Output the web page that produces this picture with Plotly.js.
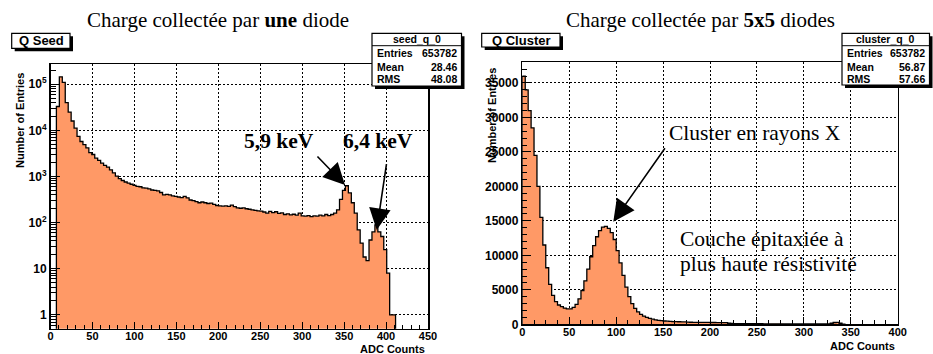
<!DOCTYPE html>
<html>
<head>
<meta charset="utf-8">
<script src="https://cdn.plot.ly/plotly-3.0.1.min.js"></script>
<style>html,body{margin:0;padding:0;background:#fff;}#chart{width:933px;height:354px;}</style>
</head>
<body>
<div id="chart"></div>
<script>
// ---------- DATA ----------
// Left histogram: seed_q_0 (128 bins from 0 to 450)
const seedBinLo = 0;
const seedBinHi = 450;
const seedNBins = 128;
const seedCounts = [
  0, 0, 33000, 145000, 110000, 40000, 25000, 16000, 11200, 7400,
  5750, 4900, 4200, 3300, 3000, 2500, 2250, 1950, 1750, 1600,
  1400, 1200, 1020, 900, 820, 760, 720, 680, 640, 610,
  600, 570, 560, 540, 510, 500, 490, 450, 400, 410,
  400, 380, 370, 360, 350, 370, 345, 310, 300, 285,
  270, 280, 270, 260, 265, 250, 235, 230, 228, 232,
  225, 240, 222, 210, 205, 208, 200, 195, 190, 185,
  180, 178, 170, 160, 175, 165, 172, 158, 162, 150,
  155, 148, 152, 145, 160, 140, 138, 142, 135, 140,
  138, 145, 140, 150, 142, 150, 160, 190, 320, 500,
  630, 440, 270, 160, 70, 36, 18, 15, 42, 63,
  89, 63, 50, 26, 8, 1, 1
];
// Right histogram: cluster_q_0 (128 bins from 0 to 400)
const clusterBinLo = 0;
const clusterBinHi = 400;
const clusterNBins = 128;
const clusterCounts = [
  36000, 34000, 31000, 28500, 24500, 20000, 15500, 11500, 8200, 5800,
  4200, 3300, 2800, 2550, 2350, 2250, 2250, 2450, 2900, 3700,
  4900, 6300, 8000, 9800, 11400, 12700, 13600, 14100, 14200, 13900,
  13300, 12300, 10700, 8900, 7100, 5400, 4000, 3000, 2300, 1800,
  1450, 1200, 1000, 850, 750, 650, 580, 530, 480, 450,
  420, 400, 380, 370, 360, 350, 320, 300, 290, 290,
  280, 280, 270, 270, 260, 260, 250, 250, 240, 230,
  150, 120, 110, 100, 100, 95, 90, 90, 85, 85,
  80, 80, 75, 75, 70, 70, 70, 65, 65, 60,
  60, 60, 55, 55, 55, 50, 50, 50, 50, 50,
  50, 50, 50, 60, 70, 150, 260, 280, 150, 30
];
// Tick labels
const seedLogTickVals = [1, 10, 100, 1000, 10000, 100000];
const seedLogTickText = ['1', '10', '10<sup>2</sup>', '10<sup>3</sup>', '10<sup>4</sup>', '10<sup>5</sup>'];
const seedStats = {name: 'seed_q_0', entries: '653782', mean: '28.46', rms: '48.08'};
const clusterStats = {name: 'cluster_q_0', entries: '653782', mean: '56.87', rms: '57.66'};

// ---------- HELPERS ----------
const W = 933, H = 354;
const px = x => x / W;
const py = y => 1 - y / H;

function outline(counts, lo, hi, n, floorVal) {
  const w = (hi - lo) / n;
  let first = counts.findIndex(v => v > 0);
  let last = counts.length - 1;
  while (last > first && !(counts[last] > 0)) last--;
  const xs = [lo + first * w], ys = [floorVal];
  for (let i = first; i <= last; i++) {
    xs.push(lo + i * w);
    ys.push(counts[i] > 0 ? counts[i] : floorVal);
  }
  xs.push(lo + (last + 1) * w); ys.push(counts[last]);
  xs.push(lo + (last + 1) * w); ys.push(floorVal);
  return {xs, ys};
}

const seedO = outline(seedCounts, seedBinLo, seedBinHi, seedNBins, 0.1);
const clusO = outline(clusterCounts, clusterBinLo, clusterBinHi, clusterNBins, 0);

const fillCol = '#ff9966';
const traces = [
  {x: seedO.xs, y: seedO.ys, type: 'scatter', mode: 'lines', line: {shape: 'hv', color: '#000', width: 1.3},
   fill: 'toself', fillcolor: fillCol, xaxis: 'x', yaxis: 'y', hoverinfo: 'skip'},
  {x: clusO.xs, y: clusO.ys, type: 'scatter', mode: 'lines', line: {shape: 'hv', color: '#000', width: 1.3},
   fill: 'toself', fillcolor: fillCol, xaxis: 'x2', yaxis: 'y2', hoverinfo: 'skip'}
];

const seedMinor = [];
for (let d = -1; d <= 5; d++) for (let m = 2; m <= 9; m++) seedMinor.push(m * Math.pow(10, d));

const tickFont = {family: 'Liberation Sans, Arial, sans-serif', size: 11, color: '#000', weight: 'bold'};
const baseAxis = {
  showline: true, linecolor: '#000', linewidth: 1.5, mirror: true,
  ticks: 'inside', tickcolor: '#000', tickwidth: 1,
  showgrid: true, gridcolor: '#000', gridwidth: 1, griddash: '2px,2px',
  zeroline: false, tickfont: tickFont, fixedrange: true
};

const layout = {
  width: W, height: H, autosize: false,
  margin: {l: 0, r: 0, t: 0, b: 0},
  paper_bgcolor: '#fff', plot_bgcolor: '#fff',
  showlegend: false,
  xaxis: Object.assign({}, baseAxis, {
    domain: [px(50.5), px(428)], anchor: 'y', range: [0, 450], dtick: 50, tick0: 0, ticklen: 7,
    ticklabelstandoff: -3,
    minor: {ticks: 'inside', ticklen: 4, dtick: 10, tickcolor: '#000', showgrid: false}
  }),
  yaxis: Object.assign({}, baseAxis, {
    domain: [py(328.7), py(64)], anchor: 'x', type: 'log', range: [-0.3, 5.44],
    tickmode: 'array', tickvals: seedLogTickVals, ticktext: seedLogTickText, ticklen: 9,
    tickfont: Object.assign({}, tickFont, {size: 12}),
    minor: {ticks: 'inside', ticklen: 5, tickmode: 'array', tickvals: seedMinor, tickcolor: '#000', showgrid: false}
  }),
  xaxis2: Object.assign({}, baseAxis, {
    domain: [px(522.3), px(897.7)], anchor: 'y2', range: [0, 400], dtick: 50, tick0: 0, ticklen: 7,
    ticklabelstandoff: -3,
    minor: {ticks: 'inside', ticklen: 4, dtick: 12.5, tickcolor: '#000', showgrid: false}
  }),
  yaxis2: Object.assign({}, baseAxis, {
    domain: [py(324.3), py(62.3)], anchor: 'x2', range: [0, 38000], dtick: 5000, tick0: 0, ticklen: 9,
    tickformat: 'd',
    tickfont: Object.assign({}, tickFont, {size: 12}),
    minor: {ticks: 'inside', ticklen: 5, dtick: 1000, tickcolor: '#000', showgrid: false}
  }),
  shapes: [],
  annotations: []
};

function box(x0, y0, x1, y1, sh) {
  layout.shapes.push({type: 'rect', xref: 'paper', yref: 'paper', x0: px(x0 + sh), x1: px(x1 + sh), y0: py(y1 + sh), y1: py(y0 + sh),
    fillcolor: '#000', line: {width: 0}, layer: 'above'});
  layout.shapes.push({type: 'rect', xref: 'paper', yref: 'paper', x0: px(x0), x1: px(x1), y0: py(y1), y1: py(y0),
    fillcolor: '#fff', line: {color: '#000', width: 1.2}, layer: 'above'});
}
function txt(text, x, y, opt) {
  layout.annotations.push(Object.assign({text, xref: 'paper', yref: 'paper', x: px(x), y: py(y),
    showarrow: false, xanchor: 'center', yanchor: 'middle',
    font: {family: 'Liberation Sans, Arial, sans-serif', size: 11, color: '#000', weight: 'bold'}}, opt || {}));
}
function arrow(hx, hy, tx, ty) {
  layout.annotations.push({text: '', xref: 'paper', yref: 'paper', x: px(hx), y: py(hy),
    ax: tx - hx, ay: ty - hy, showarrow: true, arrowhead: 2, arrowsize: 2.7, arrowwidth: 1.6,
    arrowcolor: '#000', standoff: 0, startstandoff: 0});
}

const serif = 'Liberation Serif, Times New Roman, serif';
// Titles
txt('Charge collectée par <b>une</b> diode', 218, 20, {font: {family: serif, size: 21, color: '#000'}});
txt('Charge collectée par <b>5x5</b> diodes', 700, 20, {font: {family: serif, size: 21, color: '#000'}});

// Histogram title boxes
box(11.7, 33.3, 70, 48.3, 3);
txt('Q Seed', 41, 41, {font: {family: 'Liberation Sans, Arial, sans-serif', size: 13, color: '#000', weight: 'bold'}});
box(481.7, 33.3, 560, 47, 3);
txt('Q Cluster', 521, 40.5, {font: {family: 'Liberation Sans, Arial, sans-serif', size: 13, color: '#000', weight: 'bold'}});

// Stats boxes
function stats(s, x0, x1, y0, y1) {
  box(x0, y0, x1, y1, 3);
  layout.shapes.push({type: 'line', xref: 'paper', yref: 'paper', x0: px(x0), x1: px(x1), y0: py(45.7), y1: py(45.7),
    line: {color: '#000', width: 1}, layer: 'above'});
  const sf = {family: 'Liberation Sans, Arial, sans-serif', size: 10.5, color: '#000', weight: 'bold'};
  txt(s.name, (x0 + x1) / 2, 39.3, {font: sf});
  const rows = [['Entries', s.entries, 53], ['Mean', s.mean, 66.5], ['RMS', s.rms, 79]];
  rows.forEach(r => {
    txt(r[0], x0 + 3, r[2], {xanchor: 'left', font: sf});
    txt(r[1], x1 - 3, r[2], {xanchor: 'right', font: sf});
  });
}
stats(seedStats, 372, 461.5, 33.3, 86);
stats(clusterStats, 842, 929.5, 33.3, 85);

// Axis titles
txt('Number of Entries', 20, 121, {textangle: -90});
txt('Number of Entries', 492, 115, {textangle: -90});
txt('ADC Counts', 427, 348.5, {xanchor: 'right'});
txt('ADC Counts', 897, 346, {xanchor: 'right'});

// Annotations with arrows
txt('5,9 keV', 279, 141, {font: {family: serif, size: 21.5, color: '#000', weight: 'bold'}});
txt('6,4 keV', 377.5, 141, {font: {family: serif, size: 21.5, color: '#000', weight: 'bold'}});
arrow(345, 185, 316, 155);
arrow(376.7, 230, 386.7, 162.7);
txt('Cluster en rayons X', 755, 133, {font: {family: serif, size: 21.5, color: '#000'}});
arrow(613.3, 221.7, 666, 146.7);
txt('Couche épitaxiée à', 678, 239, {xanchor: 'left', font: {family: serif, size: 21.5, color: '#000'}});
txt('plus haute résistivité', 678, 264, {xanchor: 'left', font: {family: serif, size: 21.5, color: '#000'}});

Plotly.newPlot('chart', traces, layout, {staticPlot: true, displayModeBar: false});
</script>
</body>
</html>
